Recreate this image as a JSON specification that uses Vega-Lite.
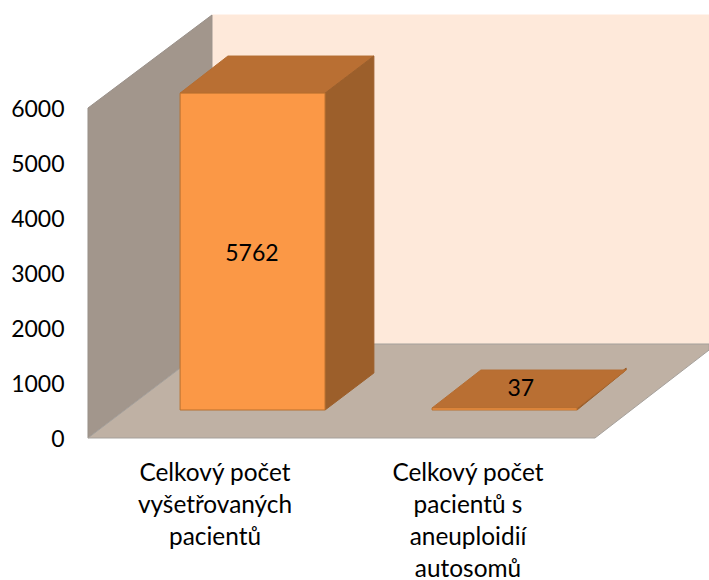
{
"$schema":"https://vega.github.io/schema/vega-lite/v6.json",
"width":709,"height":580,"padding":0,"autosize":{"type":"none"},"background":"white",
"config":{"view":{"stroke":null},"font":"Lato"},
"datasets":{
"faces":[
{"plocha":"zadni","dil":"a","x":0.988,"y":1709,"y2":7691},
{"plocha":"zadni","dil":"a","x":2.953,"y":1709,"y2":7691},
{"plocha":"bocni","dil":"a","x":0.498,"y":0,"y2":6000},
{"plocha":"bocni","dil":"a","x":0.988,"y":1709,"y2":7691},
{"plocha":"podlaha","dil":"a","x":0.498,"y":0,"y2":0},
{"plocha":"podlaha","dil":"a","x":0.988,"y":0,"y2":1709},
{"plocha":"podlaha","dil":"a","x":2.502,"y":0,"y2":1709},
{"plocha":"podlaha","dil":"a","x":2.953,"y":1600,"y2":1709},
{"plocha":"horni","dil":"b1","x":0.862,"y":6271,"y2":6271},
{"plocha":"horni","dil":"b1","x":1.051,"y":6271,"y2":6945},
{"plocha":"horni","dil":"b1","x":1.435,"y":6271,"y2":6945},
{"plocha":"horni","dil":"b1","x":1.628,"y":6945,"y2":6945},
{"plocha":"strana","dil":"b1","x":1.435,"y":509,"y2":6271},
{"plocha":"strana","dil":"b1","x":1.628,"y":1182,"y2":6945},
{"plocha":"strana","dil":"b2","x":2.431,"y":509,"y2":546},
{"plocha":"strana","dil":"b2","x":2.625,"y":1236,"y2":1273},
{"plocha":"horni","dil":"b2","x":1.858,"y":546,"y2":546},
{"plocha":"horni","dil":"b2","x":2.051,"y":546,"y2":1236},
{"plocha":"horni","dil":"b2","x":2.431,"y":546,"y2":1236},
{"plocha":"horni","dil":"b2","x":2.625,"y":1236,"y2":1236}
],
"bars":[
{"kategorie":"Celkový počet vyšetřovaných pacientů","hodnota":5762,"x":0.862,"x2":1.435,"y":509,"y2":6271,"tx":1.146,"ty":3345},
{"kategorie":"Celkový počet pacientů s aneuploidií autosomů","hodnota":37,"x":1.858,"x2":2.431,"y":509,"y2":546,"tx":2.209,"ty":890}
],
"cats":[
{"popisek":"Celkový počet|vyšetřovaných|pacientů","x":1,"y":-435},
{"popisek":"Celkový počet|pacientů s|aneuploidií|autosomů","x":2,"y":-435}
]
},
"encoding":{
"x":{"field":"x","type":"quantitative","scale":{"domain":[0.1502,2.9526],"nice":false,"zero":false},"axis":null},
"y":{"field":"y","type":"quantitative","scale":{"domain":[-2582,7964],"nice":false,"zero":false},
"axis":{"title":null,"values":[0,1000,2000,3000,4000,5000,6000],"format":"d","domain":false,"ticks":false,"grid":false,"labelPadding":-64,"labelOffset":1.5,"labelAlign":"right","labelFontSize":23,"labelFont":"Lato","labelColor":"#000000"}}
},
"layer":[
{"data":{"name":"faces"},
"mark":{"type":"area","orient":"vertical","strokeWidth":1,"opacity":1},
"encoding":{
"y2":{"field":"y2"},
"detail":{"field":"dil"},
"color":{"field":"plocha","type":"nominal","legend":null,"scale":{"domain":["zadni","bocni","podlaha","horni","strana"],"range":["#FEE9DA","#A2968C","#BFB1A4","#B96F33","#9C5F2B"]}},
"stroke":{"field":"plocha","type":"nominal","legend":null,"scale":{"domain":["zadni","bocni","podlaha","horni","strana"],"range":["#FEE9DA","#999089","#A5A09B","#B56E33","#9C5F2B"]}}
}},
{"data":{"name":"bars"},
"mark":{"type":"rect","fill":"#FB9846","stroke":"#B8702F","strokeWidth":1},
"encoding":{"x2":{"field":"x2"},"y2":{"field":"y2"}}},
{"data":{"name":"bars"},
"mark":{"type":"text","fontSize":23,"font":"Lato","color":"#000000","align":"center","baseline":"middle"},
"encoding":{"x":{"field":"tx","type":"quantitative"},"y":{"field":"ty","type":"quantitative"},"text":{"field":"hodnota","type":"quantitative","format":"d"}}},
{"data":{"name":"cats"},
"mark":{"type":"text","fontSize":24.4,"font":"Lato","color":"#000000","align":"center","baseline":"top","lineBreak":"|","lineHeight":32},
"encoding":{"text":{"field":"popisek","type":"nominal"}}}
]
}
